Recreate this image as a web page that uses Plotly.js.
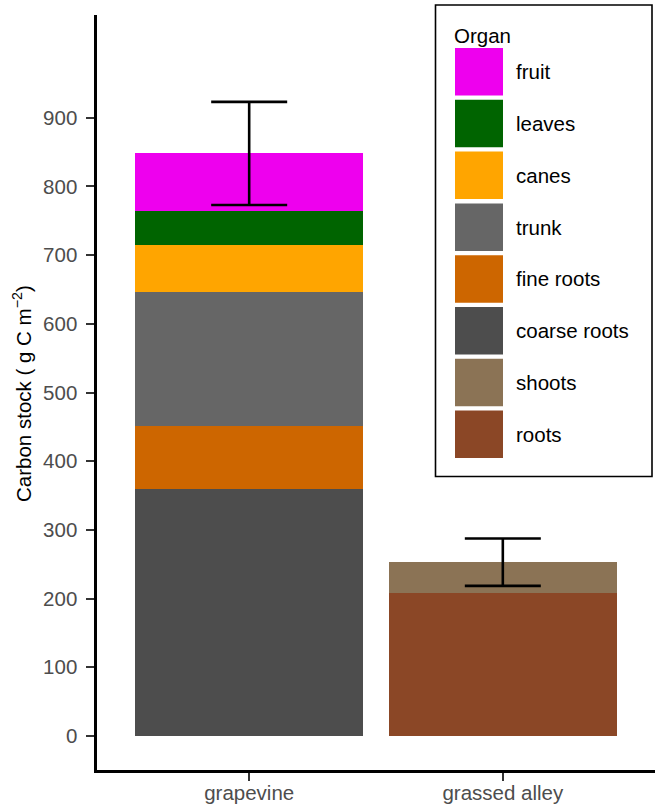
<!DOCTYPE html>
<html>
<head>
<meta charset="utf-8">
<script src="https://cdn.plot.ly/plotly-3.0.1.min.js"></script>
<style>
  html, body { margin: 0; padding: 0; background: #ffffff; }
  #chart { width: 655px; height: 805px; }
</style>
</head>
<body>
<div id="chart"></div>
<script>
// Carbon stock per organ, stacked by system
const categories = ['grapevine', 'grassed alley'];

// Organs in legend order (top of stack first)
const organs = ['fruit', 'leaves', 'canes', 'trunk', 'fine roots', 'coarse roots', 'shoots', 'roots'];
const organColors = ['#EE00EE', '#006400', '#FFA500', '#666666', '#CD6600', '#4D4D4D', '#8B7355', '#8B4726'];

// g C m-2 for each organ (null where the organ does not apply)
const grapevineValues = [84, 49, 69, 195, 91, 360, null, null];
const alleyValues = [null, null, null, null, null, null, 45, 208];

// Standard deviation of the total stock
const totalErrors = [75, 34.5];

const yTicks = [0, 100, 200, 300, 400, 500, 600, 700, 800, 900];

const W = 655, H = 805;
const M = { l: 97, r: 0, t: 15, b: 35 };
const fontFamily = '"Liberation Sans", Arial, Helvetica, sans-serif';
const textSize = 20.5;

// Stack from the bottom: reverse legend order
const traces = [];
for (let i = organs.length - 1; i >= 0; i--) {
  traces.push({
    type: 'bar',
    name: organs[i],
    x: categories,
    y: [grapevineValues[i], alleyValues[i]],
    width: 0.9,
    marker: { color: organColors[i], line: { width: 0 } },
    showlegend: false
  });
}

const sum = arr => arr.reduce((a, v) => a + (v || 0), 0);
const totals = [sum(grapevineValues), sum(alleyValues)];

traces.push({
  type: 'scatter',
  mode: 'markers',
  x: categories,
  y: totals,
  marker: { size: 1, color: 'rgba(0,0,0,0)' },
  error_y: { type: 'data', array: totalErrors, visible: true, color: '#000000', thickness: 2.6, width: 38 },
  showlegend: false
});

// pixel -> paper helpers for the hand-built legend
const pw = W - M.l - M.r, ph = H - M.t - M.b;
const px = x => (x - M.l) / pw;
const py = y => (H - M.b - y) / ph;

const shapes = [{
  type: 'rect', xref: 'paper', yref: 'paper',
  x0: px(435.5), x1: px(652), y0: py(5), y1: py(476.5),
  line: { color: '#000000', width: 1.6 }, fillcolor: '#ffffff', layer: 'above'
}];
const annotations = [{
  xref: 'paper', yref: 'paper', x: px(452), y: py(35),
  xanchor: 'left', yanchor: 'middle', showarrow: false,
  text: 'Organ', font: { family: fontFamily, size: textSize, color: '#000000' }
}];
const swTop = 48, swSize = 47.5, swStep = 51.8;
organs.forEach((name, i) => {
  const top = swTop + i * swStep;
  shapes.push({
    type: 'rect', xref: 'paper', yref: 'paper',
    x0: px(455), x1: px(503), y0: py(top + swSize), y1: py(top),
    line: { width: 0 }, fillcolor: organColors[i], layer: 'above'
  });
  annotations.push({
    xref: 'paper', yref: 'paper', x: px(514), y: py(top + swSize / 2),
    xanchor: 'left', yanchor: 'middle', showarrow: false,
    text: name, font: { family: fontFamily, size: textSize, color: '#000000' }
  });
});

// y-axis title
annotations.push({
  xref: 'paper', yref: 'paper', x: px(22), y: py(394),
  xanchor: 'center', yanchor: 'middle', showarrow: false, textangle: -90,
  text: 'Carbon stock ( g C m<sup>−2</sup>)',
  font: { family: fontFamily, size: textSize, color: '#000000' }
});

const layout = {
  width: W, height: H,
  margin: M,
  paper_bgcolor: '#ffffff',
  plot_bgcolor: '#ffffff',
  barmode: 'stack',
  bargap: 0.1,
  showlegend: false,
  hovermode: false,
  font: { family: fontFamily },
  xaxis: {
    type: 'category',
    range: [-0.6, 1.6],
    showgrid: false, zeroline: false,
    showline: true, linecolor: '#000000', linewidth: 2.6,
    ticks: 'outside', ticklen: 8, tickwidth: 2, tickcolor: '#333333',
    ticklabelstandoff: -5,
    tickfont: { family: fontFamily, size: textSize, color: '#4D4D4D' }
  },
  yaxis: {
    range: [-49.5, 1049.5],
    tickvals: yTicks,
    ticktext: yTicks.map(String),
    showgrid: false, zeroline: false,
    showline: true, linecolor: '#000000', linewidth: 2.6,
    ticks: 'outside', ticklen: 8, tickwidth: 2, tickcolor: '#333333',
    ticklabelstandoff: 5,
    tickfont: { family: fontFamily, size: textSize, color: '#4D4D4D' }
  },
  shapes: shapes,
  annotations: annotations
};

Plotly.newPlot('chart', traces, layout, { staticPlot: true, displayModeBar: false });
</script>
</body>
</html>
